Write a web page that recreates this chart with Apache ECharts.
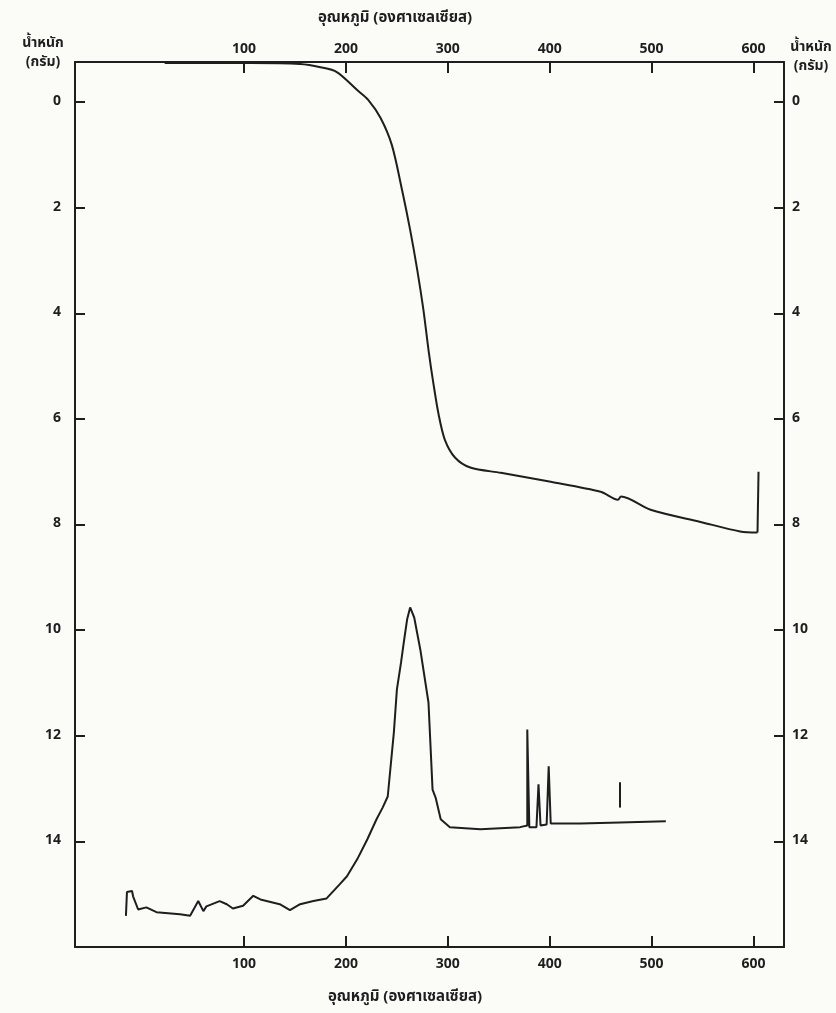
<!DOCTYPE html>
<html>
<head>
<meta charset="utf-8">
<script src="https://cdn.jsdelivr.net/npm/echarts@6/dist/echarts.min.js"></script>
<style>
  html, body { margin: 0; padding: 0; background: #fbfbf8; }
  #chart { width: 836px; height: 1013px; }
</style>
</head>
<body>
<div id="chart"></div>
<script>
// tick labels
const tempTicks = [100, 200, 300, 400, 500, 600]
const weightTicks = [0, 2, 4, 6, 8, 10, 12, 14]

// upper trace: weight loss (temperature, grams)
const tgTemp = [22, 106, 155, 175, 191, 211, 222, 234, 245, 255, 263, 270, 276, 281, 286, 291, 297, 307, 322, 352, 401, 450, 467, 470, 499, 548, 587, 604]
const tgWeight = [-0.74, -0.74, -0.72, -0.66, -0.57, -0.23, -0.04, 0.30, 0.81, 1.66, 2.42, 3.18, 3.93, 4.69, 5.35, 5.92, 6.39, 6.73, 6.92, 7.02, 7.19, 7.38, 7.53, 7.47, 7.72, 7.95, 8.13, 8.15]
// vertical jump at the end of the upper trace
const tgEndTemp = [604, 605]
const tgEndWeight = [8.15, 7.0]

// lower trace: differential curve
const dtaTemp = [-16, -15, -10, -9, -4, 4, 14, 37, 47, 55, 60, 63, 76, 83, 89, 99, 109, 116, 135, 145, 155, 168, 181, 194, 201, 211, 221, 230, 236, 241, 247, 250, 254, 257, 260, 263, 267, 273, 281, 285, 288, 293, 302, 332, 371, 378, 378, 380, 387, 389, 391, 397, 399, 401, 430, 469, 514]
const dtaValue = [15.41, 14.96, 14.94, 15.04, 15.29, 15.25, 15.34, 15.38, 15.41, 15.13, 15.32, 15.23, 15.13, 15.19, 15.27, 15.22, 15.03, 15.10, 15.19, 15.30, 15.19, 15.13, 15.08, 14.81, 14.66, 14.34, 13.96, 13.58, 13.36, 13.15, 11.94, 11.12, 10.62, 10.2, 9.8, 9.57, 9.76, 10.37, 11.37, 13.02, 13.17, 13.58, 13.73, 13.77, 13.73, 13.70, 11.88, 13.73, 13.73, 12.92, 13.70, 13.68, 12.58, 13.66, 13.66, 13.64, 13.62]

// short isolated mark above the lower trace
const markTemp = [469, 469]
const markValue = [12.88, 13.36]

const ink = '#1e1e1e'
const font = '"Noto Sans Thai", "Noto Sans", "DejaVu Sans", sans-serif'

const zip = (xs, ys) => xs.map((x, i) => [x, ys[i]])

const xAxisBase = {
  type: 'value',
  min: -66,
  max: 630,
  splitLine: { show: false },
  axisLine: { show: true, onZero: false, lineStyle: { color: ink, width: 2 } },
  axisTick: { show: true, inside: true, length: 11, customValues: tempTicks, lineStyle: { color: ink, width: 2 } },
  axisLabel: { customValues: tempTicks, color: ink, fontSize: 14, fontWeight: 'bold', fontFamily: font },
}

const yAxisBase = {
  type: 'value',
  inverse: true,
  min: -0.76,
  max: 16,
  splitLine: { show: false },
  axisLine: { show: true, onZero: false, lineStyle: { color: ink, width: 2 } },
  axisTick: { show: true, inside: true, length: 10, customValues: weightTicks, lineStyle: { color: ink, width: 2 } },
  axisLabel: { customValues: weightTicks, color: ink, fontSize: 14, fontWeight: 'bold', fontFamily: font },
}

const lineStyle = { color: ink, width: 2 }
const titleFont = 'bold 15px ' + font

const chart = echarts.init(document.getElementById('chart'))
chart.setOption({
  backgroundColor: '#fbfbf8',
  animation: false,
  grid: { left: 75, right: 52, top: 62, bottom: 66 },
  xAxis: [
    { ...xAxisBase, position: 'bottom', axisLabel: { ...xAxisBase.axisLabel, margin: 11 } },
    { ...xAxisBase, position: 'top', axisLabel: { ...xAxisBase.axisLabel, margin: 5 } },
  ],
  yAxis: [
    { ...yAxisBase, position: 'left', axisLabel: { ...yAxisBase.axisLabel, margin: 14 } },
    { ...yAxisBase, position: 'right', axisLabel: { ...yAxisBase.axisLabel, margin: 8 } },
  ],
  graphic: [
    { type: 'text', x: 395, y: 19, style: { text: 'อุณหภูมิ (องศาเซลเซียส)', fill: ink, font: titleFont, align: 'center', verticalAlign: 'middle' } },
    { type: 'text', x: 405, y: 998, style: { text: 'อุณหภูมิ (องศาเซลเซียส)', fill: ink, font: titleFont, align: 'center', verticalAlign: 'middle' } },
    { type: 'text', x: 43, y: 54, style: { text: 'น้ำหนัก\n(กรัม)', fill: ink, font: 'bold 14px ' + font, lineHeight: 19, align: 'center', verticalAlign: 'middle' } },
    { type: 'text', x: 811, y: 58, style: { text: 'น้ำหนัก\n(กรัม)', fill: ink, font: 'bold 14px ' + font, lineHeight: 19, align: 'center', verticalAlign: 'middle' } },
  ],
  series: [
    { name: 'tg', type: 'line', data: zip(tgTemp, tgWeight), smooth: 0.3, showSymbol: false, lineStyle, itemStyle: { color: ink } },
    { name: 'tg-end', type: 'line', data: zip(tgEndTemp, tgEndWeight), showSymbol: false, lineStyle, itemStyle: { color: ink } },
    { name: 'dta', type: 'line', data: zip(dtaTemp, dtaValue), showSymbol: false, lineStyle, itemStyle: { color: ink } },
    { name: 'mark', type: 'line', data: zip(markTemp, markValue), showSymbol: false, lineStyle, itemStyle: { color: ink } },
  ],
})
</script>
</body>
</html>
